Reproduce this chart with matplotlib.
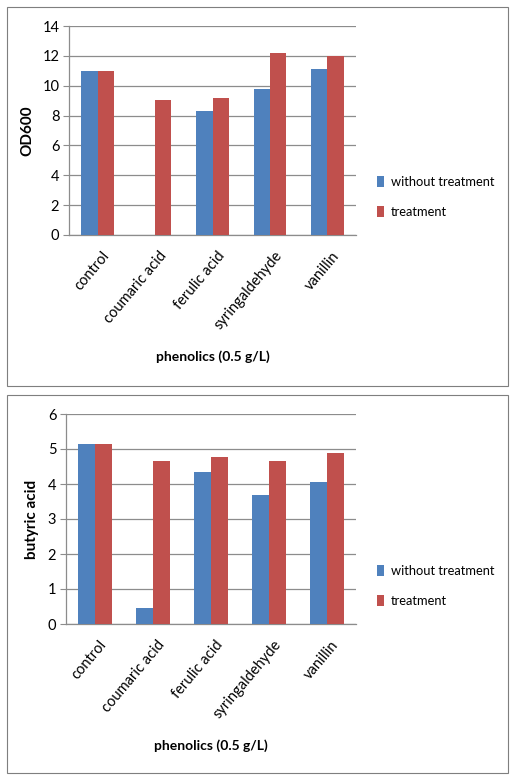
import matplotlib
matplotlib.use("Agg")
import matplotlib.pyplot as plt
import matplotlib.transforms as mtransforms
import numpy as np
from matplotlib.patches import Rectangle

categories = ["control", "coumaric acid", "ferulic acid", "syringaldehyde", "vanillin"]
series_names = ["without treatment", "treatment"]
od600_without = [11.0, 0.0, 8.3, 9.75, 11.1]
od600_treat = [11.0, 9.05, 9.2, 12.2, 12.0]
butyric_without = [5.15, 0.45, 4.35, 3.7, 4.05]
butyric_treat = [5.15, 4.65, 4.78, 4.65, 4.88]
od_ticks = [0, 2, 4, 6, 8, 10, 12, 14]
bu_ticks = [0, 1, 2, 3, 4, 5, 6]

BLUE = "#4F81BD"
RED = "#C0504D"
GRID = "#8C8C8C"

plt.rcParams["font.family"] = ["Lato", "DejaVu Sans"]

W, H = 515, 781
fig = plt.figure(figsize=(W / 100, H / 100), dpi=100)

def px(x0, y0, x1, y1):
    return [x0 / W, 1 - y1 / H, (x1 - x0) / W, (y1 - y0) / H]

# panel borders
for (x0, y0, x1, y1) in [(7, 7, 508, 386), (7, 395, 508, 773)]:
    fig.add_artist(Rectangle((x0 / W, 1 - y1 / H), (x1 - x0) / W, (y1 - y0) / H,
                             transform=fig.transFigure, fill=False,
                             edgecolor="#7F7F7F", linewidth=0.8))

def draw(rect, wo, tr, ticks, ylabel, legend_y):
    ax = fig.add_axes(rect)
    x = np.arange(len(categories))
    w = 0.285
    ax.bar(x - w / 2, wo, width=w, color=BLUE, label=series_names[0], zorder=3)
    ax.bar(x + w / 2, tr, width=w, color=RED, label=series_names[1], zorder=3)
    ax.set_xlim(-0.5, len(categories) - 0.5)
    ax.set_ylim(ticks[0], ticks[-1])
    ax.set_yticks(ticks)
    ax.yaxis.grid(True, color=GRID, linewidth=0.9, zorder=0)
    for s in ["top", "right"]:
        ax.spines[s].set_visible(False)
    for s in ["left", "bottom"]:
        ax.spines[s].set_color(GRID)
        ax.spines[s].set_linewidth(0.9)
    ax.tick_params(axis="y", length=4, color=GRID, labelsize=10.5, pad=3)
    ax.tick_params(axis="x", length=0, labelsize=10.5, pad=10)
    ax.set_xticks(x)
    ax.set_xticklabels(categories, rotation=50, ha="right", rotation_mode="anchor")
    off = mtransforms.ScaledTranslation(4 / 100, 0, fig.dpi_scale_trans)
    for lbl in ax.get_xticklabels():
        lbl.set_transform(lbl.get_transform() + off)
    ax.set_ylabel(ylabel, fontsize=11, fontweight="bold", labelpad=6)
    ax.set_xlabel("phenolics (0.5 g/L)", fontsize=10, fontweight="bold", labelpad=13)
    ax.legend(loc="center left", bbox_to_anchor=(365 / W, 1 - legend_y / H),
              bbox_transform=fig.transFigure, frameon=False, fontsize=9.3,
              handlelength=0.6, handleheight=0.9, handletextpad=0.5,
              labelspacing=1.4)
    return ax

draw(px(69, 26, 356, 235), od600_without, od600_treat, od_ticks, "OD600", 197)
draw(px(66, 414, 356, 624), butyric_without, butyric_treat, bu_ticks, "butyric acid", 586)

fig.savefig("out.png", dpi=100, facecolor="white")
